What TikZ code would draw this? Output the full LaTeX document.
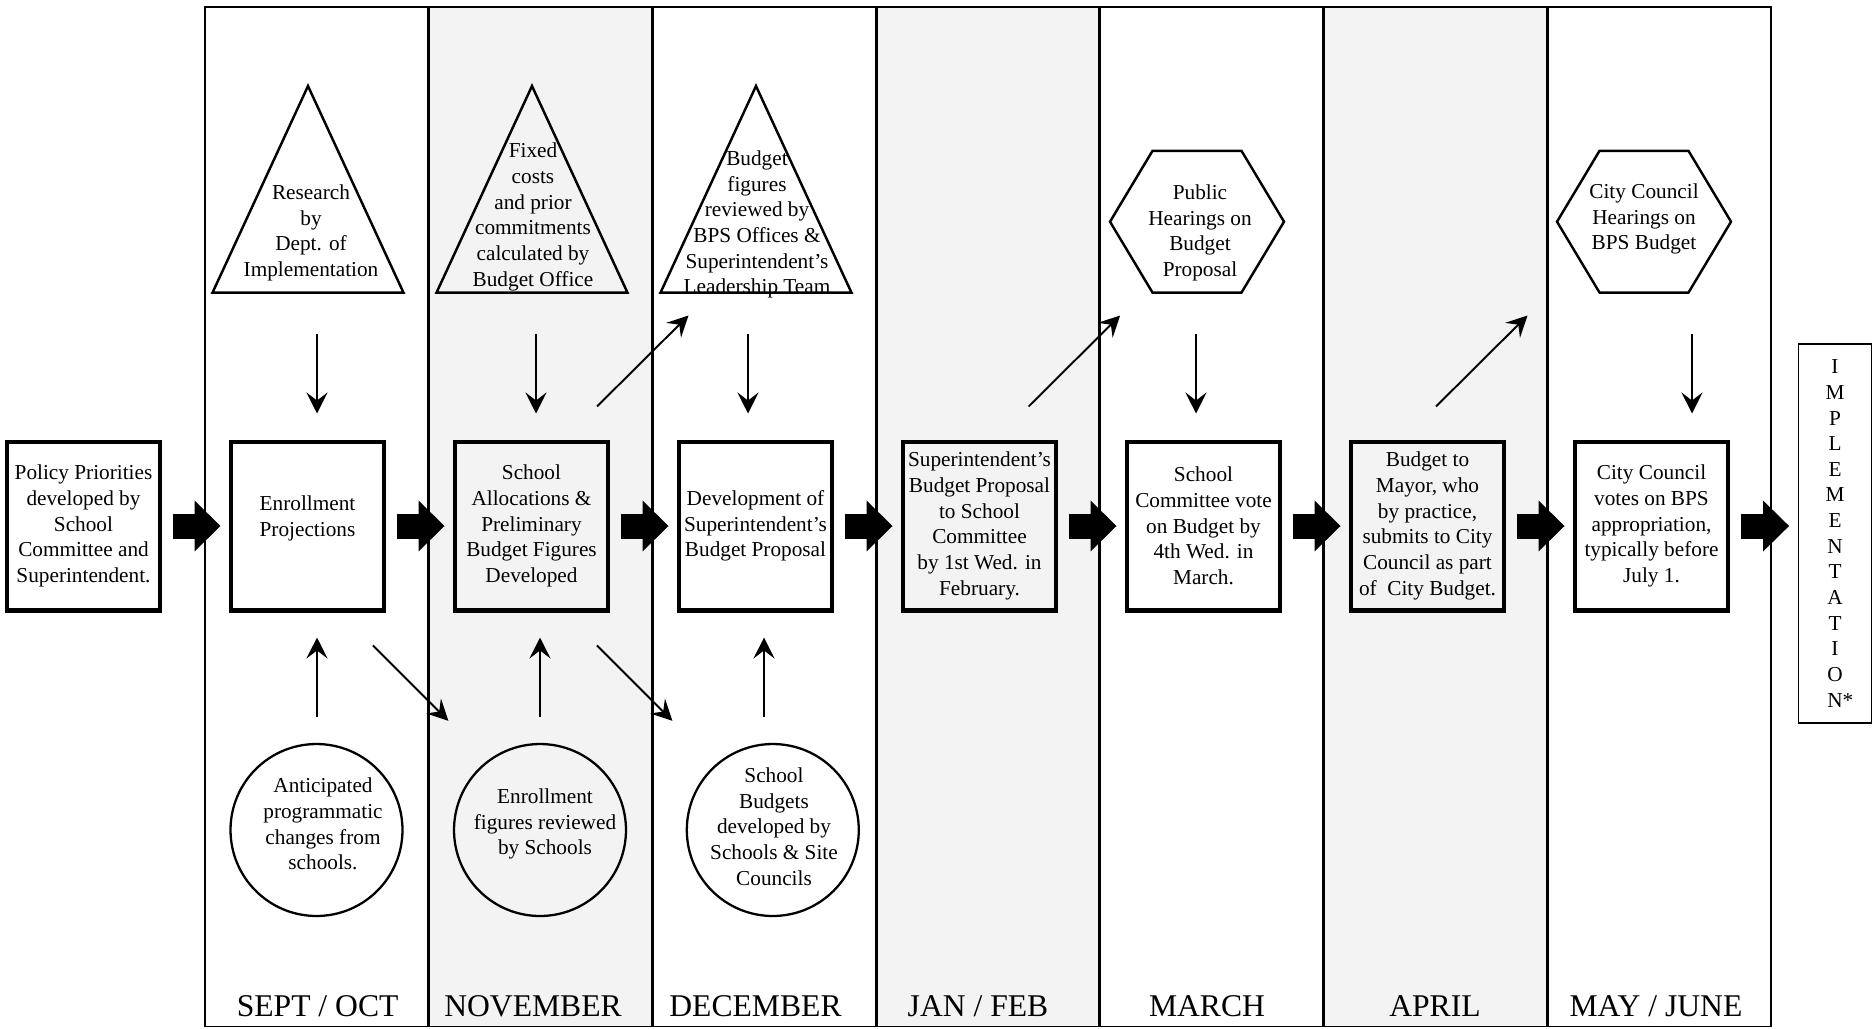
\documentclass[tikz,border=0pt]{standalone}
\usepackage{fontspec}
\setmainfont{Liberation Serif}
\usetikzlibrary{arrows.meta}
\definecolor{colgray}{RGB}{243,243,243}

\begin{document}
\begin{tikzpicture}[x=0.02cm,y=-0.02cm,
	every node/.style={align=center,inner sep=0pt,font=\fontsize{12.1}{14.6}\selectfont},
	stagebox/.style={draw,line width=2.3pt,minimum width=3.06cm,minimum height=3.38cm},
	circ/.style={draw,circle,line width=1.3pt,minimum size=3.44cm},
	month/.style={anchor=base,font=\fontsize{18}{21.6}\selectfont},
	outline/.style={line width=1.4pt,line join=miter},
	thinarr/.style={line width=1.1pt,-{Stealth[length=0.42cm,width=0.42cm,inset=0.16cm]}},
	blockarr/.style={line width=0.5cm,-{Triangle[length=0.52cm,width=1.02cm,line width=0pt 0 0]},shorten <=0.21cm,shorten >=0.17cm}]
	\useasboundingbox (0,0) rectangle (1873,1028);

	\foreach \c in {1,3,5}
		\fill[colgray] (205+\c*223.7,7) rectangle (428.7+\c*223.7,1026.5);
	\draw[line width=1.1pt] (205,7) rectangle (1771,1026.5);
	\foreach \c in {1,...,6}
		\draw[line width=1.8pt] (205+\c*223.7,7) -- (205+\c*223.7,1026.5);

	\node[month] (m1) at (317.6,1016) {SEPT / OCT};
	\node[month] (m2) at (533,1016) {NOVEMBER};
	\node[month] (m3) at (755.5,1016) {DECEMBER};
	\node[month] (m4) at (978,1016) {JAN / FEB};
	\node[month] (m5) at (1207,1016) {MARCH};
	\node[month] (m6) at (1435,1016) {APRIL};
	\node[month] (m7) at (1656,1016) {MAY / JUNE};

	\node[stagebox] (pol) at (83.5,526) {Policy Priorities\\developed by\\School\\Committee and\\Superintendent.};
	\node[stagebox] (enr) at (307.5,526) {Enrollment\\Projections\\[-3pt]\mbox{}};
	\node[stagebox] (alloc) at (531.5,526) {School\\Allocations \&\\Preliminary\\Budget Figures\\Developed};
	\node[stagebox] (dev) at (755.5,526) {Development of\\Superintendent’s\\Budget Proposal};
	\node[stagebox] (sup) at (979.5,526) {Superintendent’s\\Budget Proposal\\to School\\Committee\\by 1st Wed. in\\February.};
	\node[stagebox] (vote) at (1203.5,526) {School\\Committee vote\\on Budget by\\4th Wed. in\\March.};
	\node[stagebox] (mayor) at (1427.5,526) {Budget to\\Mayor, who\\by practice,\\submits to City\\Council as part\\of\ \ City Budget.};
	\node[stagebox] (city) at (1651.5,526) {City Council\\votes on BPS\\appropriation,\\typically before\\July 1.};
	\node[draw,line width=1.1pt,minimum width=1.46cm,minimum height=7.58cm] (impl) at (1835,533.5)
		{I\\M\\P\\L\\E\\M\\E\\N\\T\\A\\T\\I\\O\\N\rlap{*}};

	\foreach \a/\b in {pol/enr,enr/alloc,alloc/dev,dev/sup,sup/vote,vote/mayor,mayor/city,city/impl}
		\draw[blockarr] (\a.east) -- (\a.east -| \b.west);

	\foreach \n/\x in {tri1/308,tri2/532,tri3/756}{
		\coordinate (\n) at (\x,86);
		\draw[outline] (\n) -- ++(95.5,206.7) -- ++(-191,0) -- cycle;}
	\node (res) at (311,233) {Research\\by\\Dept. of\\Implementation};
	\node (fix) at (533,217) {Fixed\\costs\\and prior\\commitments\\calculated by\\Budget Office};
	\node (rev) at (757,224.5) {Budget\\figures\\reviewed by\\BPS Offices \&\\Superintendent’s\\Leadership Team};

	\foreach \n/\x in {hex1/1197,hex2/1644}{
		\coordinate (\n) at (\x,221.7);
		\draw[outline] (\n) ++(-87,0) -- ++(42.5,-70.85) -- ++(89,0) -- ++(42.5,70.85) -- ++(-42.5,70.85) -- ++(-89,0) -- cycle;}
	\node (pub) at (1200,233) {Public\\Hearings on\\Budget\\Proposal};
	\node (cch) at (1644,219) {City Council\\Hearings on\\BPS Budget};

	\node[circ] (ant) at (316.5,830) {};
	\node[circ] (efr) at (540,830) {};
	\node[circ] (sbd) at (772.8,830) {};
	\node (anttxt) at (323,824) {Anticipated\\programmatic\\changes from\\schools.};
	\node (efrtxt) at (545,824) {Enrollment\\figures reviewed\\by Schools};
	\node (sbdtxt) at (774,826.5) {School\\Budgets\\developed by\\Schools \& Site\\Councils};

	\foreach \b/\dx in {enr/9.5,alloc/4.5,dev/-7.5,vote/-7.5,city/40.5}
		\draw[thinarr] ([shift={(\dx,-106)}]\b.north) -- ([shift={(\dx,-26)}]\b.north);
	\foreach \b/\dx in {enr/9.5,alloc/8.5,dev/8.5}
		\draw[thinarr] ([shift={(\dx,104)}]\b.south) -- ([shift={(\dx,25)}]\b.south);
	\foreach \b/\dx in {alloc/65.5,sup/49.1,mayor/8.5}
		\draw[thinarr] ([shift={(\dx,-33)}]\b.north) -- ++(91.5,-91);
	\foreach \b in {enr,alloc}
		\draw[thinarr] ([shift={(65.4,33)}]\b.south) -- ++(75.5,75.3);
\end{tikzpicture}
\end{document}
